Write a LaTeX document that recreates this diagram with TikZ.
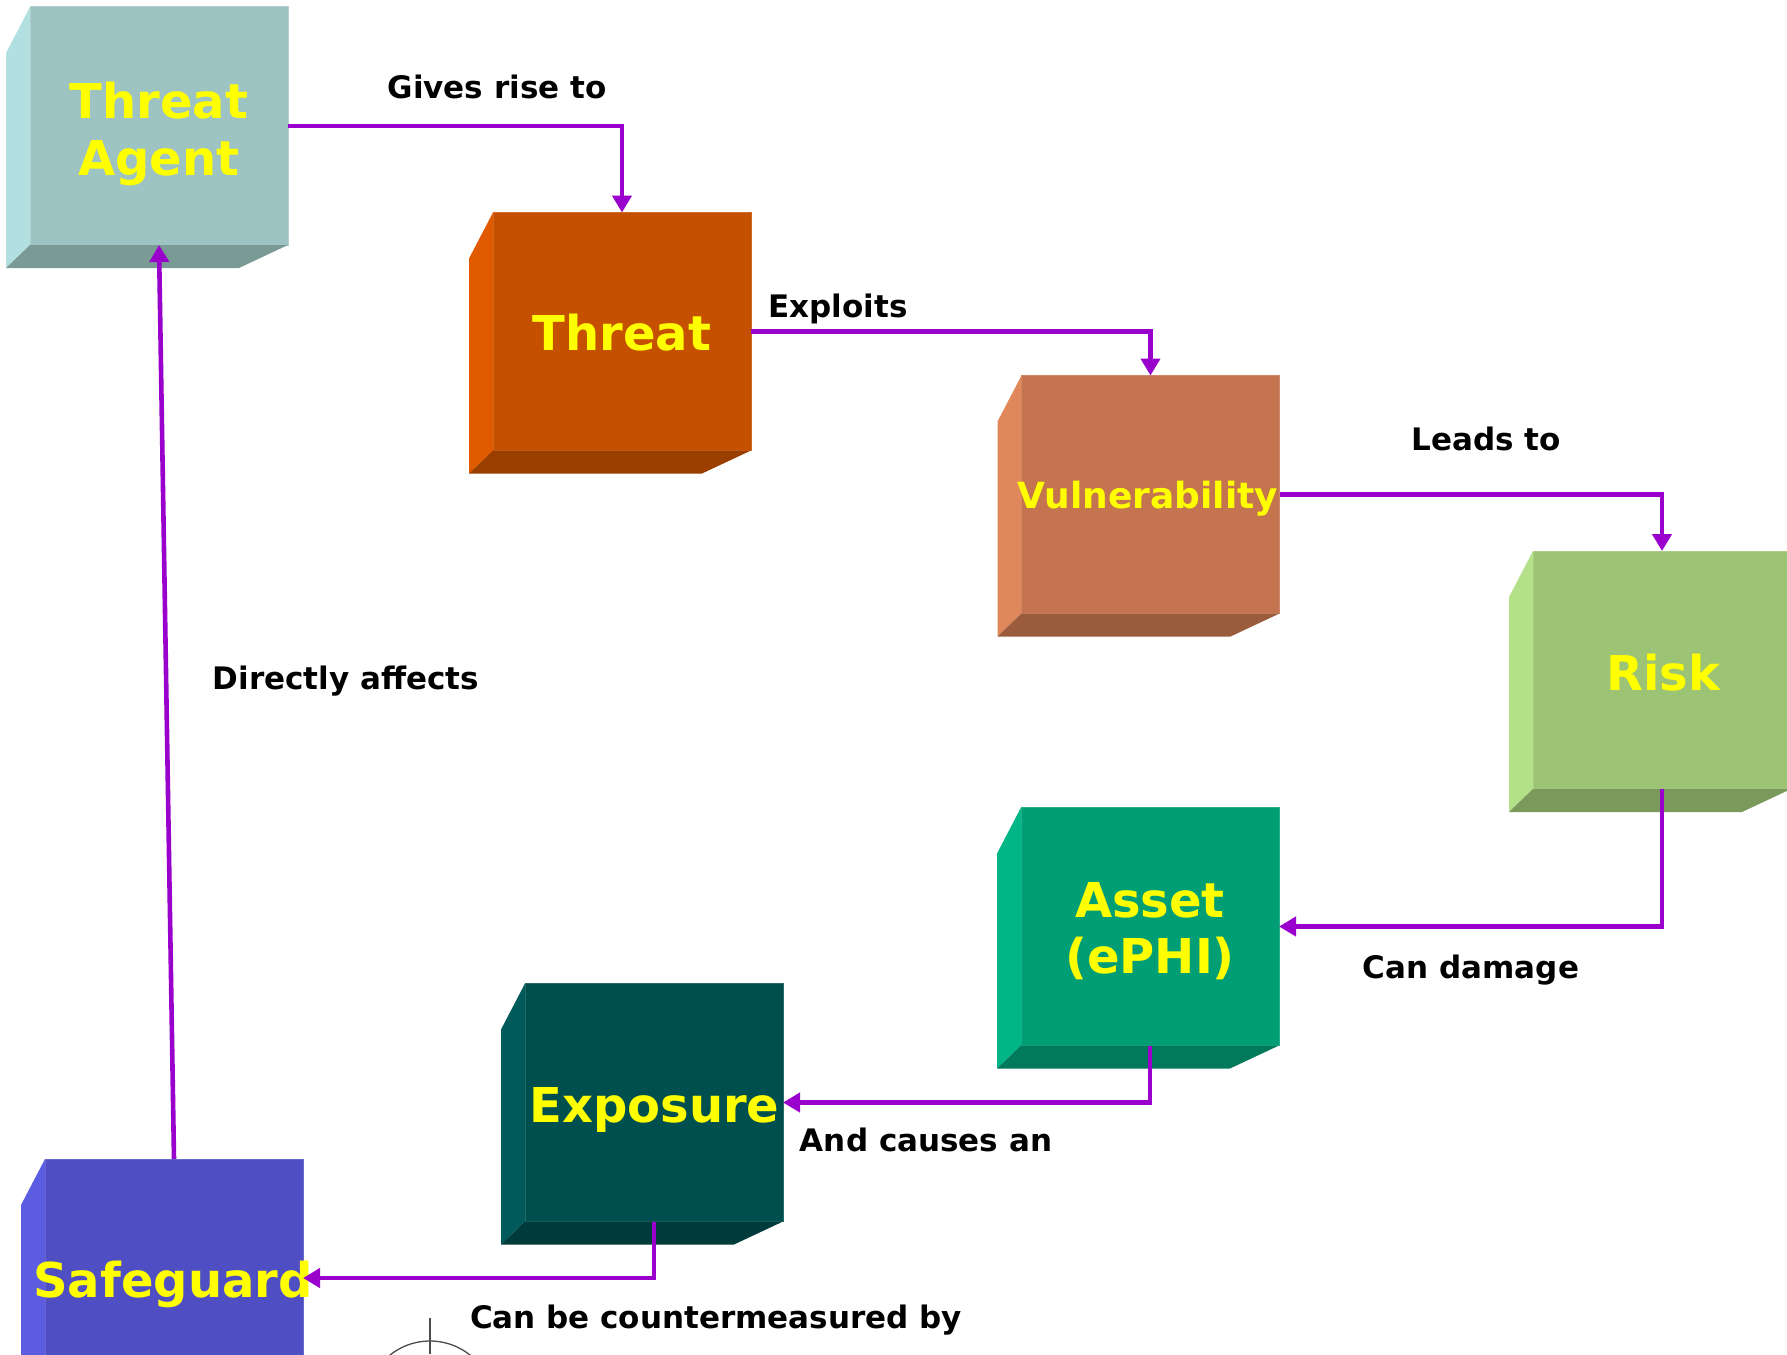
\documentclass[tikz,border=0pt]{standalone}
\usepackage{fontspec}
\setmainfont{DejaVu Sans}
\usetikzlibrary{arrows.meta}
\definecolor{txtyellow}{HTML}{FFFF00}
\definecolor{arrowc}{HTML}{9900CC}
\definecolor{taF}{HTML}{9DC3C3}\definecolor{taL}{HTML}{B2E0E0}\definecolor{taB}{HTML}{7A9A96}
\definecolor{thF}{HTML}{C45000}\definecolor{thL}{HTML}{E05A00}\definecolor{thB}{HTML}{9A3E00}
\definecolor{vuF}{HTML}{C4744E}\definecolor{vuL}{HTML}{E0875C}\definecolor{vuB}{HTML}{9A5C3C}
\definecolor{riF}{HTML}{9DC374}\definecolor{riL}{HTML}{B3E088}\definecolor{riB}{HTML}{7A995A}
\definecolor{asF}{HTML}{009E74}\definecolor{asL}{HTML}{00B586}\definecolor{asB}{HTML}{007A5A}
\definecolor{exF}{HTML}{004F4F}\definecolor{exL}{HTML}{005A5A}\definecolor{exB}{HTML}{003B3B}
\definecolor{sgF}{HTML}{4F4FC3}\definecolor{sgL}{HTML}{5C5CE0}\definecolor{sgB}{HTML}{3C3C9A}
\newcommand\cubesides[3]{%
  \fill[#2] ([shift={(-24,46)}]#1.north west) -- (#1.north west) -- (#1.south west) -- ([shift={(-24,23)}]#1.south west) -- cycle;
  \fill[#3] ([shift={(-24,23)}]#1.south west) -- (#1.south west) -- (#1.south east) -- ([shift={(-49,23)}]#1.south east) -- cycle;
}
\begin{document}
\begin{tikzpicture}[x=1pt,y=-1pt,
  face/.style={rectangle,inner sep=0pt,outer sep=0pt,minimum width=258pt,minimum height=238pt,line width=1pt},
  boxtext/.style={text=txtyellow,font=\fontsize{48}{57}\selectfont\bfseries,inner sep=0pt,anchor=base},
  lab/.style={font=\fontsize{31}{37}\selectfont\bfseries,inner sep=0pt,anchor=base},
  arr/.style={draw=arrowc,line width=4.6pt,-{Triangle[width=19pt,length=17pt]}}]
\useasboundingbox (0,0) rectangle (1787,1354);
\clip (0,0) rectangle (1787,1354);
\fill[white] (0,0) rectangle (1787,1354);
% boxes
\node[face,fill=taF,draw=taF!80!white] (ta) at (159,126) {};
\cubesides{ta}{taL}{taB}
\node[face,fill=thF,draw=thF!85!white] (th) at (622,331.5) {};
\cubesides{th}{thL}{thB}
\node[face,fill=vuF,draw=vuF!85!white] (vu) at (1150.5,494.5) {};
\cubesides{vu}{vuL}{vuB}
\node[face,fill=riF,draw=riF!85!white] (ri) at (1662,670) {};
\cubesides{ri}{riL}{riB}
\node[face,fill=asF,draw=asF!85!white] (as) at (1150,926.5) {};
\cubesides{as}{asL}{asB}
\node[face,fill=exF,draw=exF!85!white] (ex) at (654,1102.5) {};
\cubesides{ex}{exL}{exB}
\node[face,fill=sgF,draw=sgF!85!white] (sg) at (174,1278) {};
\cubesides{sg}{sgL}{sgB}
% partial logo at the bottom edge
\draw[gray!60!black,line width=1.3pt] (430,1405) circle (64);
\draw[gray!60!black,line width=1.3pt] (430,1318) -- (430,1354);
% box texts
\node[boxtext] (ta1) at (159,118) {Threat};
\node[boxtext] (ta2) at (159,175) {Agent};
\node[boxtext] (th1) at (622,350) {Threat};
\node[boxtext,font=\fontsize{36}{43}\selectfont\bfseries] (vu1) at (1148,508) {Vulnerability};
\node[boxtext] (ri1) at (1663,690) {Risk};
\node[boxtext] (as1) at (1150,917) {Asset};
\node[boxtext] (as2) at (1150,973) {(ePHI)};
\node[boxtext] (ex1) at (654.5,1122) {Exposure};
\node[boxtext] (sg1) at (173,1297) {Safeguard};
% connectors
\draw[arr] (ta.east) -| (th.north);
\draw[arr] (th.east) -| (vu.north);
\draw[arr] (vu.east) -| (ri.north);
\draw[arr] (ri.south) |- (as.east);
\draw[arr] (as.south) |- (ex.east);
\draw[arr] (ex.south) |- (sg.east);
\draw[arr] (sg.north) -- (ta.south);
% labels
\node[lab] (l1) at (497,98) {Gives rise to};
\node[lab] (l2) at (838,317) {Exploits};
\node[lab] (l3) at (1486,450) {Leads to};
\node[lab] (l4) at (1471,978) {Can damage};
\node[lab] (l5) at (926,1151) {And causes an};
\node[lab] (l6) at (346,689) {Directly affects};
\node[lab] (l7) at (716,1328) {Can be countermeasured by};
\end{tikzpicture}
\end{document}
